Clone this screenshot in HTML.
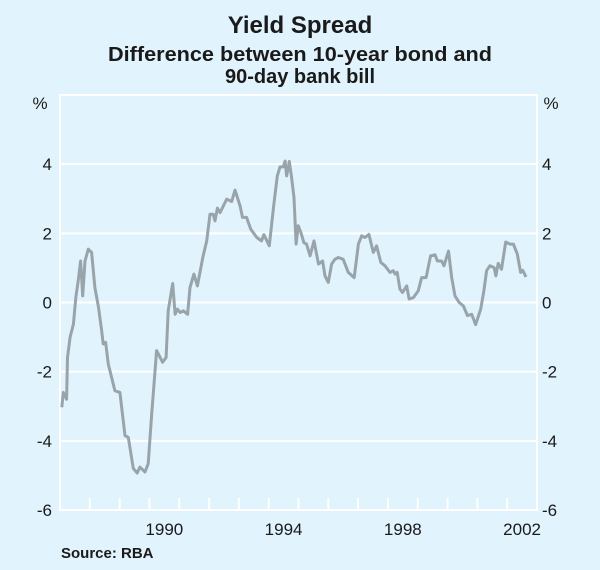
<!DOCTYPE html>
<html><head><meta charset="utf-8"><style>
body{margin:0;background:#e1f3fd;}
svg{display:block;font-family:"Liberation Sans",Arial,sans-serif;}
</style></head><body>
<svg id="chart" width="600" height="570" viewBox="0 0 600 570">
<rect width="600" height="570" fill="#e1f3fd"/>
<text x="300" y="33" text-anchor="middle" font-size="24" font-weight="bold" fill="#1a1a1a">Yield Spread</text>
<text x="300" y="61" text-anchor="middle" font-size="20" font-weight="bold" fill="#1a1a1a" textLength="384" lengthAdjust="spacingAndGlyphs">Difference between 10-year bond and</text>
<text x="300" y="83" text-anchor="middle" font-size="20" font-weight="bold" fill="#1a1a1a">90-day bank bill</text>
<g id="grid"></g>
<g id="axes"></g>
<path id="series" fill="none" stroke="#99a4aa" stroke-width="3" stroke-linejoin="round"/>
<text x="61" y="558" font-size="15" font-weight="bold" fill="#1a1a1a">Source: RBA</text>
</svg>
<script>
const years = [1987.06,1987.11,1987.17,1987.22,1987.25,1987.34,1987.45,1987.53,1987.61,1987.69,1987.76,1987.84,1987.95,1988.06,1988.17,1988.29,1988.40,1988.45,1988.53,1988.62,1988.84,1989.01,1989.18,1989.29,1989.46,1989.59,1989.68,1989.85,1989.96,1990.07,1990.24,1990.44,1990.56,1990.63,1990.78,1990.86,1990.94,1991.03,1991.14,1991.28,1991.36,1991.49,1991.61,1991.79,1991.92,1992.03,1992.14,1992.20,1992.28,1992.37,1992.59,1992.76,1992.87,1993.04,1993.12,1993.26,1993.32,1993.40,1993.60,1993.76,1993.84,1994.02,1994.16,1994.29,1994.38,1994.49,1994.55,1994.60,1994.66,1994.69,1994.77,1994.85,1994.92,1994.99,1995.08,1995.18,1995.27,1995.39,1995.52,1995.67,1995.81,1995.89,1996.00,1996.11,1996.22,1996.34,1996.50,1996.67,1996.87,1997.01,1997.12,1997.23,1997.36,1997.51,1997.62,1997.76,1997.90,1998.07,1998.18,1998.24,1998.31,1998.40,1998.49,1998.63,1998.71,1998.85,1999.02,1999.13,1999.28,1999.43,1999.58,1999.66,1999.80,1999.88,2000.03,2000.14,2000.25,2000.39,2000.53,2000.67,2000.81,2000.94,2001.11,2001.22,2001.31,2001.42,2001.56,2001.62,2001.70,2001.81,2001.95,2002.09,2002.21,2002.34,2002.45,2002.52,2002.63];
const spread = [-3.03,-2.6,-2.7,-2.8,-1.59,-1.0,-0.63,0.14,0.63,1.2,0.19,1.2,1.54,1.45,0.43,-0.14,-0.82,-1.2,-1.15,-1.78,-2.55,-2.6,-3.85,-3.9,-4.8,-4.93,-4.76,-4.9,-4.66,-3.3,-1.39,-1.73,-1.59,-0.24,0.55,-0.34,-0.19,-0.29,-0.24,-0.34,0.43,0.82,0.48,1.3,1.78,2.55,2.55,2.36,2.73,2.6,2.99,2.92,3.25,2.79,2.46,2.46,2.31,2.12,1.88,1.78,1.96,1.64,2.75,3.66,3.92,3.92,4.09,3.66,3.92,4.08,3.61,3.03,1.69,2.22,2.02,1.73,1.69,1.35,1.78,1.11,1.2,0.77,0.58,1.11,1.25,1.3,1.25,0.87,0.72,1.69,1.93,1.88,1.97,1.45,1.64,1.16,1.06,0.87,0.92,0.82,0.87,0.39,0.29,0.48,0.1,0.14,0.34,0.72,0.72,1.35,1.38,1.2,1.2,1.06,1.49,0.72,0.19,0.0,-0.1,-0.38,-0.34,-0.64,-0.19,0.34,0.92,1.06,1.01,0.77,1.13,0.96,1.75,1.69,1.69,1.4,0.87,0.93,0.74];
const yTicks = [-6,-4,-2,0,2,4];
const xLabels = [1990,1994,1998,2002];
const X0=60,X1=537,Y0=95,Y1=510,yMin=-6,yMax=6,tMin=1987,tMax=2003;
const xs=t=>X0+(t-tMin)/(tMax-tMin)*(X1-X0);
const ys=v=>Y1-(v-yMin)/(yMax-yMin)*(Y1-Y0);
const NS="http://www.w3.org/2000/svg";
const grid=document.getElementById('grid'),axes=document.getElementById('axes');
function mk(tag,attrs,parent){const e=document.createElementNS(NS,tag);for(const k in attrs)e.setAttribute(k,attrs[k]);parent.appendChild(e);return e;}
const frame=mk('rect',{x:X0,y:Y0,width:X1-X0,height:Y1-Y0,fill:'none',stroke:'#fff','stroke-width':2},grid);


yTicks.forEach(v=>{
  const l=mk('line',{x1:X0,x2:X1,y1:ys(v),y2:ys(v),stroke:'#fff','stroke-width':2},grid);
  
  
  const a=mk('text',{x:X0-8,y:ys(v)+6,'text-anchor':'end','font-size':17,fill:'#1a1a1a'},axes);a.textContent=v;
  
  
  const b=mk('text',{x:X1+5,y:ys(v)+6,'text-anchor':'start','font-size':17,fill:'#1a1a1a'},axes);b.textContent=v;
  
  
});
const pl=mk('text',{x:X0-20,y:Y0+14,'text-anchor':'middle','font-size':17,fill:'#1a1a1a'},axes);pl.textContent='%';


const pr=mk('text',{x:X1+14,y:Y0+14,'text-anchor':'middle','font-size':17,fill:'#1a1a1a'},axes);pr.textContent='%';


for(let t=tMin+1;t<tMax;t++){
  const tk=mk('line',{x1:xs(t),x2:xs(t),y1:Y1,y2:Y1-12,stroke:'#fff','stroke-width':2},grid);
  
  
}
xLabels.forEach(y=>{
  const t=mk('text',{x:xs(y+0.5),y:Y1+25,'text-anchor':'middle','font-size':17,fill:'#1a1a1a'},axes);t.textContent=y;
  
  
});
document.getElementById('series').setAttribute('d',years.map((t,i)=>(i?'L':'M')+xs(t).toFixed(1)+' '+ys(spread[i]).toFixed(1)).join(''));
</script>
</body></html>
